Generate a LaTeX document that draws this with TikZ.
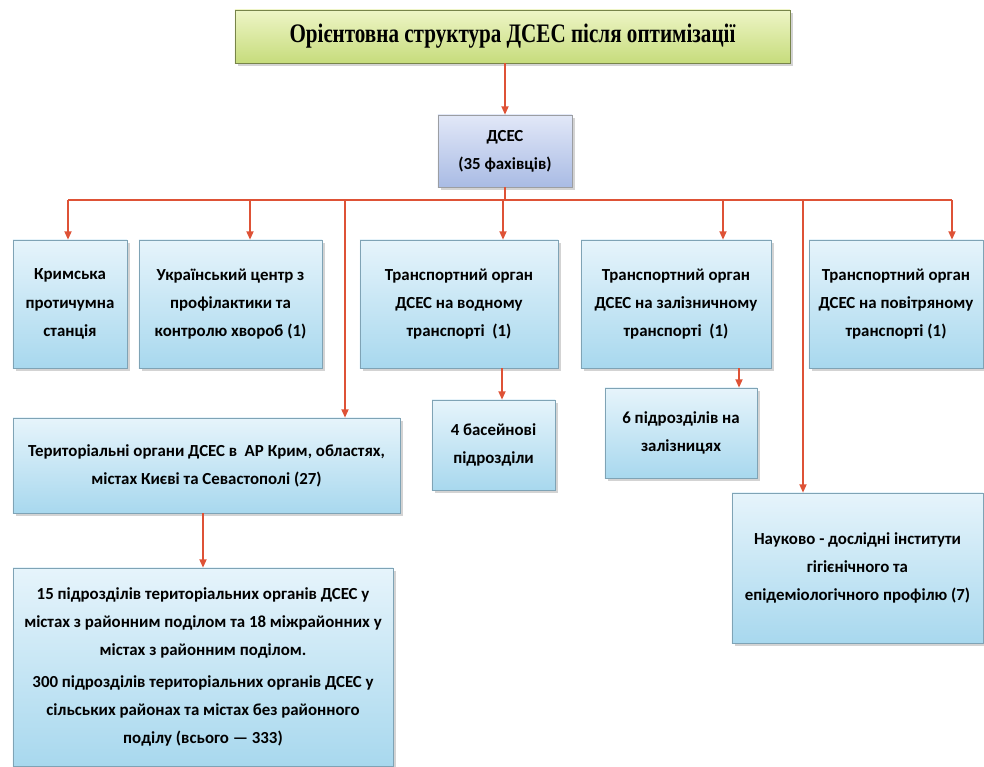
\documentclass[tikz,border=0pt]{standalone}
\usepackage{fontspec}
\setmainfont{Carlito}
\newfontfamily\titlefont{Liberation Serif}
\usetikzlibrary{arrows.meta,shadows}

\definecolor{boxtop}{HTML}{E6F4FB}
\definecolor{boxbot}{HTML}{A8D8EE}
\definecolor{boxline}{HTML}{7FA3B5}
\definecolor{chieftop}{HTML}{E2E8F8}
\definecolor{chiefbot}{HTML}{A9BBE4}
\definecolor{headtop}{HTML}{EEF5C6}
\definecolor{headbot}{HTML}{C6DC7C}
\definecolor{linkred}{HTML}{DE5236}

\begin{document}
\begin{tikzpicture}[
        x=0.025cm, y=-0.025cm,
        every node/.style={font=\bfseries\fontsize{12}{20}\selectfont},
        unit/.style={
            rectangle,
            draw=boxline,
            top color=boxtop,
            bottom color=boxbot,
            align=center,
            inner sep=2pt,
            drop shadow={opacity=0.35, shadow xshift=2pt, shadow yshift=-2pt}
        },
        chief/.style={
            unit,
            draw=chieftop!40!black!60,
            top color=chieftop,
            bottom color=chiefbot
        },
        head/.style={
            rectangle,
            draw=headbot!60!black,
            top color=headtop,
            bottom color=headbot,
            font=\titlefont\bfseries\fontsize{19}{22}\selectfont,
            drop shadow={opacity=0.35, shadow xshift=2pt, shadow yshift=-2pt}
        },
        link/.style={draw=linkred, line width=1.2pt},
        arr/.style={link, -{Triangle[length=6pt,width=5pt]}}
    ]
    \useasboundingbox (0,0) rectangle (984,767);

    % Top
    \node[head, minimum width=13.875cm, minimum height=1.325cm] (title) at (512.5,36.5)
        {\scalebox{0.79}[1]{Орієнтовна структура ДСЕС після оптимізації}};
    \node[chief, minimum width=3.35cm, minimum height=1.8cm] (dses) at (505,151)
        {ДСЕС\\(35 фахівців)};
    \draw[arr] (title.south -| dses.north) -- (dses.north);

    % First row
    \node[unit, minimum width=2.85cm, minimum height=3.2cm] (krym) at (70,304)
        {Кримська\\протичумна\\станція};
    \node[unit, minimum width=4.575cm, minimum height=3.2cm] (ukr) at (230.5,304)
        {Український центр з\\профілактики та\\контролю хвороб (1)};
    \node[unit, minimum width=4.95cm, minimum height=3.2cm] (water) at (459,304)
        {Транспортний орган\\ДСЕС на водному\\транспорті~~(1)};
    \node[unit, minimum width=4.75cm, minimum height=3.2cm] (rail) at (676,304)
        {Транспортний орган\\ДСЕС на залізничному\\транспорті~~(1)};
    \node[unit, minimum width=4.35cm, minimum height=3.2cm] (air) at (896,304)
        {Транспортний орган\\ДСЕС на повітряному\\транспорті (1)};

    % Lower boxes
    \node[unit, minimum width=9.675cm, minimum height=2.375cm] (terr) at (206.5,465.5)
        {Територіальні органи ДСЕС в~~АР Крим, областях,\\містах Києві та Севастополі (27)};
    \node[unit, minimum width=9.5cm, minimum height=4.95cm] (rayon) at (203,667)
        {15 підрозділів територіальних органів ДСЕС у\\
         містах з районним поділом та 18 міжрайонних у\\
         містах з районним поділом.\\[3pt]
         300 підрозділів територіальних органів ДСЕС у\\
         сільських районах та містах без районного\\
         поділу (всього — 333)};
    \node[unit, minimum width=3.075cm, minimum height=2.25cm] (basin) at (493.5,445)
        {4 басейнові\\підрозділи};
    \node[unit, minimum width=3.8cm, minimum height=2.25cm] (rail6) at (681,433)
        {6 підрозділів на\\залізницях};
    \node[unit, minimum width=6.275cm, minimum height=3.75cm] (sci) at (857.5,568)
        {Науково - дослідні інститути\\гігієнічного та\\епідеміологічного профілю (7)};

    % Bus
    \coordinate (bus) at (505,200);
    \coordinate (b1) at (68,200);
    \coordinate (b2) at (250,200);
    \coordinate (b3) at (345,200);
    \coordinate (b4) at (503,200);
    \coordinate (b5) at (723,200);
    \coordinate (b6) at (803,200);
    \coordinate (b7) at (952,200);
    \draw[link] (dses.south) -- (bus);
    \draw[link] (b1) -- (b7);
    \draw[arr] (b1) -- (b1 |- krym.north);
    \draw[arr] (b2) -- (b2 |- ukr.north);
    \draw[arr] (b3) -- (b3 |- terr.north);
    \draw[arr] (b4) -- (b4 |- water.north);
    \draw[arr] (b5) -- (b5 |- rail.north);
    \draw[arr] (b6) -- (b6 |- sci.north);
    \draw[arr] (b7) -- (b7 |- air.north);

    % Sub-units
    \coordinate (w1) at (502,380);
    \coordinate (r1) at (739,380);
    \draw[arr] (w1 |- water.south) -- (w1 |- basin.north);
    \draw[arr] (r1 |- rail.south) -- (r1 |- rail6.north);
    \draw[arr] (terr.south -| rayon.north) -- (rayon.north);
\end{tikzpicture}
\end{document}
